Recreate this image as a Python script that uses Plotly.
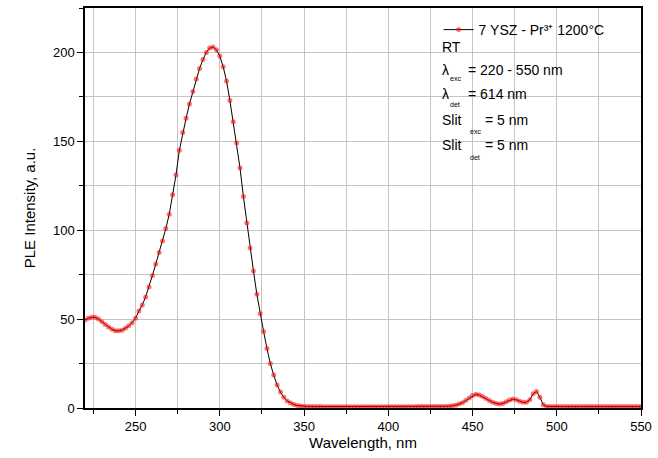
import plotly.graph_objects as go

# Excitation spectrum, 2 nm step
wavelength = list(range(220, 552, 2))
intensity = [
    # 220 - 258
    49.5, 50.5, 51.0, 51.0, 50.0, 48.5, 47.0, 45.5, 44.3, 43.5,
    43.4, 43.8, 44.8, 46.2, 48.0, 50.5, 54.5, 58.0, 62.5, 68.0,
    # 260 - 298
    74.5, 81.0, 87.5, 94.0, 101.0, 109.0, 120.0, 131.0, 145.0, 155.0,
    163.0, 171.0, 178.0, 185.0, 191.0, 196.0, 200.0, 202.5, 203.0, 201.5,
    # 300 - 338
    198.0, 192.0, 184.0, 173.0, 161.0, 149.0, 135.0, 119.0, 104.0, 90.0,
    77.0, 64.0, 53.0, 43.0, 33.5, 25.0, 18.5, 13.0, 9.0, 6.0,
    # 340 - 378
    4.0, 2.8, 2.0, 1.4, 1.1, 0.9, 0.9, 0.8, 0.8, 0.8,
    0.8, 0.7, 0.7, 0.7, 0.7, 0.7, 0.7, 0.7, 0.7, 0.7,
    # 380 - 418
    0.7, 0.7, 0.7, 0.7, 0.7, 0.7, 0.7, 0.7, 0.7, 0.7,
    0.7, 0.7, 0.7, 0.7, 0.7, 0.7, 0.7, 0.7, 0.7, 0.8,
    # 420 - 458
    0.8, 0.8, 0.8, 0.8, 0.8, 0.8, 0.9, 0.9, 1.0, 1.2,
    1.6, 2.2, 3.0, 4.2, 5.6, 7.0, 7.7, 7.3, 6.4, 5.3,
    # 460 - 494
    4.2, 3.2, 2.5, 2.2, 2.6, 3.5, 4.5, 5.0, 4.6, 3.8,
    3.2, 3.2, 4.6, 8.0, 9.3, 6.0, 1.8, 0.9,
    # 496 - 550
    0.8, 0.8, 0.8, 0.8, 0.8, 0.8, 0.8, 0.8, 0.8, 0.8,
    0.8, 0.8, 0.8, 0.8, 0.8, 0.8, 0.8, 0.8, 0.8, 0.8,
    0.8, 0.8, 0.8, 0.8, 0.8, 0.8, 0.8, 0.8,
]

x_range = [220, 550]
y_range = [0, 225]

legend_name = "7 YSZ - Pr³⁺ 1200°C"

# Measurement conditions: (symbol, subscript, value text)
cond_symbol = ["RT", "λ", "λ", "Slit", "Slit"]
cond_sub = ["", "exc", "det", "exc", "det"]
cond_value = ["", "= 220 - 550 nm", "= 614 nm", "= 5 nm", "= 5 nm"]

# text placement in paper units
cond_x = 0.639
cond_y = [0.903, 0.846, 0.784, 0.721, 0.657]
sub_x = [0.0, 0.6535, 0.6535, 0.6894, 0.6894]
sub_y = [0.0, 0.823, 0.759, 0.692, 0.627]
value_x = [0.0, 0.6858, 0.6858, 0.7163, 0.7163]

font_family = "Liberation Sans, Arial, sans-serif"
grid_color = "#c4c4c4"

n = min(len(wavelength), len(intensity))
fig = go.Figure()
fig.add_trace(go.Scatter(
    x=wavelength[:n], y=intensity[:n],
    mode="lines+markers",
    name=legend_name,
    line=dict(color="black", width=1),
    marker=dict(color="rgba(255,0,0,0.55)", size=5, symbol="circle",
                line=dict(width=0)),
))

txt_font = dict(family=font_family, size=14, color="black")
sub_font = dict(family=font_family, size=7, color="black")
for i in range(len(cond_symbol)):
    fig.add_annotation(x=cond_x, y=cond_y[i], xref="paper", yref="paper",
                       text=cond_symbol[i], showarrow=False,
                       xanchor="left", yanchor="middle", font=txt_font)
    if cond_sub[i]:
        fig.add_annotation(x=sub_x[i], y=sub_y[i], xref="paper", yref="paper",
                           text=cond_sub[i], showarrow=False,
                           xanchor="left", yanchor="middle", font=sub_font)
    if cond_value[i]:
        fig.add_annotation(x=value_x[i], y=cond_y[i], xref="paper", yref="paper",
                           text=cond_value[i], showarrow=False,
                           xanchor="left", yanchor="middle", font=txt_font)

axis_common = dict(
    showline=True, linecolor="black", linewidth=1.5, mirror=True,
    ticks="outside", ticklen=6, tickwidth=1.2, tickcolor="black",
    showgrid=True, gridcolor=grid_color, gridwidth=1,
    zeroline=False,
    tickfont=dict(family=font_family, size=13, color="black"),
)

fig.update_xaxes(
    range=x_range, tick0=250, dtick=50,
    minor=dict(dtick=25, tick0=225, ticks="outside", ticklen=4,
               tickcolor="black", showgrid=True, gridcolor=grid_color),
    title=dict(text="Wavelength, nm", standoff=2,
               font=dict(family=font_family, size=15, color="black")),
    **axis_common,
)
fig.update_yaxes(
    range=y_range, tick0=0, dtick=50,
    minor=dict(dtick=25, tick0=0, ticks="outside", ticklen=4,
               tickcolor="black", showgrid=True, gridcolor=grid_color),
    title=dict(text="PLE Intensity, a.u.", standoff=14,
               font=dict(family=font_family, size=15, color="black")),
    **axis_common,
)

fig.update_layout(
    width=658, height=458,
    margin=dict(l=85, r=16, t=6, b=50),
    paper_bgcolor="white", plot_bgcolor="white",
    showlegend=True,
    legend=dict(x=0.636, y=0.985, xanchor="left", yanchor="top",
                bgcolor="rgba(0,0,0,0)", itemwidth=30,
                font=dict(family=font_family, size=14, color="black")),
)

fig.write_html("out.html")
